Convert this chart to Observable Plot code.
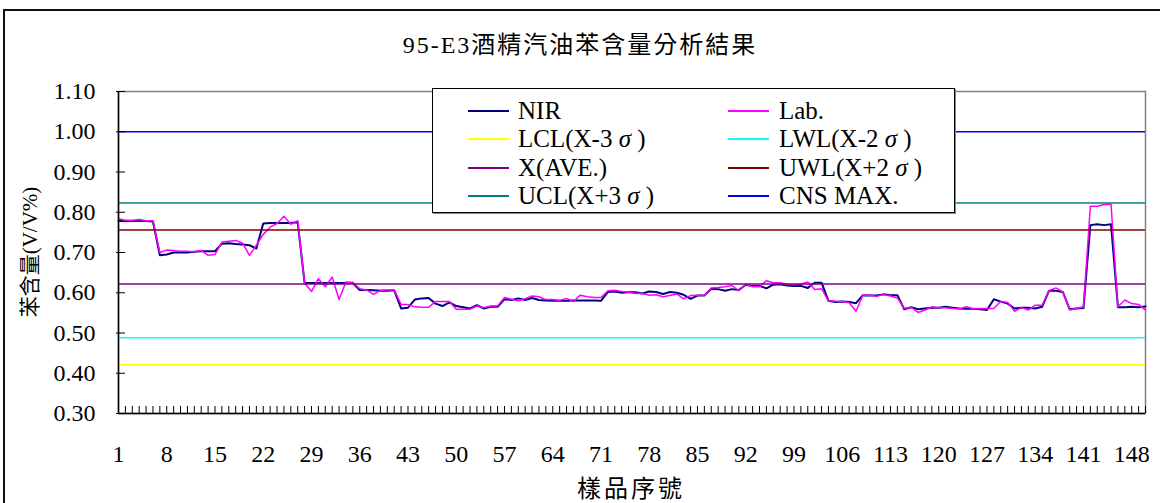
<!DOCTYPE html>
<html><head><meta charset="utf-8">
<script src="https://cdn.jsdelivr.net/npm/d3@7"></script>
<script src="https://cdn.jsdelivr.net/npm/@observablehq/plot@0.6"></script>
<style>
body{margin:0;background:#fff;}
#wrap{position:relative;width:1160px;height:503px;overflow:hidden;font-family:"Liberation Serif","Noto Sans CJK TC",serif;color:#000;}
#wrap svg{position:absolute;left:0;top:0;}
.abs{position:absolute;white-space:nowrap;}
#border{position:absolute;left:3px;top:9px;width:1170px;height:520px;border:2px solid #111;box-sizing:border-box;}
#title{left:0;width:1160px;top:30px;text-align:center;font-size:24px;letter-spacing:2px;line-height:30px;}
#ytitle{left:28px;top:252px;font-size:21px;transform:translate(-50%,-50%) rotate(-90deg);}
#xtitle{left:631px;top:486px;font-size:24px;letter-spacing:3px;transform:translate(-50%,-50%);}
#legend{left:432px;top:88px;width:523px;height:125px;background:#fff;border:1.5px solid #000;box-sizing:border-box;box-shadow:1px 1px 0 #888;}
.li{position:absolute;font-size:25px;line-height:28px;}
.li span.sw{position:absolute;top:13px;height:2px;}
</style></head><body><div id="wrap"><div id="border"></div></div>
<script>
// sample numbers (categories)
const samples = d3.range(1, 151);
const xTickLabels = [1,8,15,22,29,36,43,50,57,64,71,78,85,92,99,106,113,120,127,134,141,148];
const yTicks = [0.30,0.40,0.50,0.60,0.70,0.80,0.90,1.00,1.10];

// NIR measurement
const nir = [
0.778,0.778,0.778,0.778,0.778,0.777,0.693,0.695,0.700,0.700,
0.700,0.702,0.703,0.703,0.703,0.722,0.723,0.721,0.720,0.718,
0.710,0.772,0.773,0.773,0.773,0.773,0.775,0.624,0.624,0.624,
0.624,0.624,0.624,0.624,0.624,0.607,0.607,0.606,0.605,0.605,
0.606,0.561,0.563,0.583,0.586,0.587,0.573,0.567,0.576,0.567,
0.564,0.561,0.569,0.561,0.565,0.565,0.584,0.582,0.586,0.582,
0.587,0.582,0.581,0.580,0.580,0.580,0.581,0.581,0.581,0.581,
0.580,0.602,0.603,0.600,0.601,0.601,0.598,0.603,0.602,0.597,
0.602,0.600,0.595,0.585,0.593,0.593,0.610,0.609,0.605,0.609,
0.607,0.620,0.617,0.617,0.611,0.620,0.621,0.618,0.617,0.617,
0.612,0.625,0.625,0.580,0.577,0.578,0.577,0.574,0.594,0.593,
0.593,0.596,0.594,0.594,0.559,0.564,0.559,0.561,0.563,0.563,
0.565,0.563,0.561,0.560,0.560,0.559,0.557,0.584,0.578,0.573,
0.561,0.563,0.563,0.561,0.565,0.605,0.605,0.602,0.559,0.561,
0.562,0.768,0.770,0.768,0.770,0.564,0.564,0.565,0.564,0.566];

// Laboratory measurement
const lab = [
0.784,0.780,0.780,0.782,0.779,0.779,0.700,0.706,0.705,0.703,
0.703,0.702,0.705,0.693,0.695,0.726,0.728,0.730,0.723,0.693,
0.718,0.745,0.763,0.772,0.790,0.770,0.779,0.624,0.603,0.635,
0.615,0.639,0.583,0.627,0.626,0.610,0.607,0.596,0.606,0.607,
0.607,0.571,0.571,0.565,0.564,0.564,0.578,0.578,0.578,0.559,
0.559,0.559,0.567,0.563,0.567,0.567,0.588,0.584,0.580,0.585,
0.592,0.590,0.583,0.583,0.581,0.586,0.578,0.594,0.590,0.588,
0.588,0.605,0.606,0.603,0.601,0.598,0.598,0.594,0.595,0.590,
0.593,0.597,0.585,0.593,0.594,0.594,0.612,0.613,0.615,0.618,
0.605,0.621,0.615,0.615,0.630,0.625,0.625,0.621,0.620,0.621,
0.627,0.608,0.610,0.580,0.579,0.578,0.575,0.554,0.594,0.594,
0.591,0.596,0.592,0.587,0.561,0.564,0.551,0.557,0.565,0.563,
0.563,0.561,0.560,0.565,0.560,0.561,0.561,0.561,0.579,0.576,
0.554,0.563,0.557,0.569,0.569,0.605,0.612,0.602,0.557,0.561,
0.565,0.815,0.815,0.819,0.819,0.565,0.582,0.573,0.571,0.557];

// control / specification lines
const refNames  = ["LCL(X-3 σ )","LWL(X-2 σ )","X(AVE.)","UWL(X+2 σ )","UCL(X+3 σ )","CNS MAX."];
const refValues = [0.421, 0.488, 0.622, 0.756, 0.823, 1.00];

const legendNames = ["NIR","Lab.","LCL(X-3 σ )","LWL(X-2 σ )","X(AVE.)","UWL(X+2 σ )","UCL(X+3 σ )","CNS MAX."];
const colors = {
  "NIR":"#000080","Lab.":"#FF00FF","LCL(X-3 σ )":"#FFFF00","LWL(X-2 σ )":"#00FFFF",
  "X(AVE.)":"#800080","UWL(X+2 σ )":"#800000","UCL(X+3 σ )":"#008080","CNS MAX.":"#0000FF"
};

const rows = samples.map((s, i) => ({sample: s, NIR: nir[i], Lab: lab[i]}));
const refs = refNames.map((n, i) => ({name: n, value: refValues[i]}));
const font = '"Liberation Serif","Noto Sans CJK TC",serif';

const chart = Plot.plot({
  width: 1160, height: 503,
  marginTop: 91, marginBottom: 90, marginLeft: 118, marginRight: 15,
  style: {background: "transparent", fontFamily: font, color: "#000"},
  x: {type: "linear", domain: [1, 150]},
  y: {domain: [0.30, 1.10]},
  marks: [
    Plot.frame({stroke: "#808080", strokeWidth: 1.5}),
    Plot.line(rows, {x: "sample", y: "NIR", stroke: colors["NIR"], strokeWidth: 2}),
    Plot.line(rows, {x: "sample", y: "Lab", stroke: colors["Lab."], strokeWidth: 1.5}),
    Plot.ruleY(refs, {y: "value", stroke: d => colors[d.name], strokeWidth: 1.5}),
    Plot.ruleX([1], {stroke: "#000", strokeWidth: 1.5}),
    Plot.ruleY([0.30], {stroke: "#000", strokeWidth: 1.5}),
    Plot.axisX(samples, {tickSize: 7, dy: -7, tickFormat: () => "", stroke: "#000", label: null}),
    Plot.axisX(xTickLabels, {tickSize: 0, tickPadding: 31, fontSize: 24, tickFormat: d => String(d), label: null}),
    Plot.axisY(yTicks, {tickSize: 9, dx: 7, tickFormat: () => "", stroke: "#000", label: null}),
    Plot.axisY(yTicks, {tickSize: 0, tickPadding: 23, fontSize: 24, tickFormat: d3.format(".2f"), label: null})
  ]
});
const wrap = document.getElementById("wrap");
wrap.appendChild(chart);

function addDiv(id, cls, text) {
  const d = document.createElement("div");
  if (id) d.id = id;
  d.className = cls;
  d.textContent = text;
  wrap.appendChild(d);
  return d;
}
addDiv("title", "abs", "95-E3酒精汽油苯含量分析結果");
addDiv("ytitle", "abs", "苯含量(V/V%)");
addDiv("xtitle", "abs", "樣品序號");

const lg = addDiv("legend", "abs", "");
const colX = [[35, 85], [295, 346]];
const rowY = [8, 36, 65, 93];
legendNames.forEach((n, i) => {
  const c = i % 2, r = Math.floor(i / 2);
  const it = document.createElement("div");
  it.className = "li";
  it.style.left = colX[c][0] + "px";
  it.style.top = rowY[r] + "px";
  const sw = document.createElement("span");
  sw.className = "sw";
  sw.style.left = "0px";
  sw.style.width = "41px";
  sw.style.background = colors[n];
  it.appendChild(sw);
  const t = document.createElement("span");
  t.style.position = "absolute";
  t.style.left = (colX[c][1] - colX[c][0]) + "px";
  t.style.top = "0px";
  t.style.whiteSpace = "nowrap";
  t.innerHTML = n.replace("σ", "<i>σ</i>");
  it.appendChild(t);
  lg.appendChild(it);
});
</script></body></html>
